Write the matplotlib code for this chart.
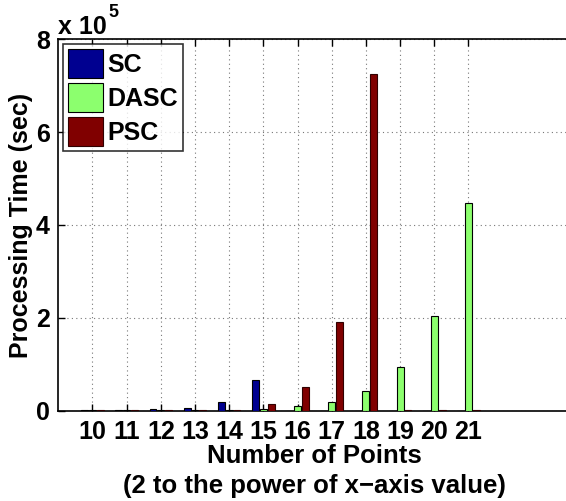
import matplotlib
matplotlib.use("Agg")
from matplotlib import pyplot as plt
import numpy as np

plt.rcParams['font.family'] = ['Liberation Sans', 'DejaVu Sans']
plt.rcParams['font.weight'] = 'bold'

points = [10, 11, 12, 13, 14, 15, 16, 17, 18, 19, 20, 21]
sc = [300, 900, 2500, 6000, 19000, 66000, 0, 0, 0, 0, 0, 0]
dasc = [150, 250, 400, 700, 1200, 2500, 9000, 19000, 42000, 93000, 203000, 447000]
psc = [300, 400, 500, 700, 2000, 14000, 51000, 191000, 726000, 500, 500, 500]

fig = plt.figure(figsize=(5.66, 5.01), dpi=100)
ax = fig.add_axes([0.103, 0.1806, 0.9058, 0.7406])

x = np.array(points)
w = 0.2
ax.bar(x - 0.23, sc, w, color='#000090', edgecolor='black', linewidth=0.8, label='SC', zorder=3)
ax.bar(x, dasc, w, color='#8CFF6E', edgecolor='black', linewidth=0.8, label='DASC', zorder=3)
ax.bar(x + 0.23, psc, w, color='#800000', edgecolor='#300000', linewidth=0.8, label='PSC', zorder=3)

ax.set_xlim(9, 24)
ax.set_ylim(0, 8e5)
ax.set_xticks(points)
ax.set_xticklabels([str(p) for p in points])
ax.set_yticks([0, 2e5, 4e5, 6e5, 8e5])
ax.set_yticklabels(['0', '2', '4', '6', '8'])
ax.tick_params(direction='in', length=5, width=1, top=True, right=False,
               labelsize=18, pad=6)
ax.tick_params(axis='x', pad=7)
ax.grid(True, linestyle=(0, (1, 3)), color='#777777', linewidth=0.8, zorder=0)
ax.spines['right'].set_visible(False)
for s in ['left', 'top', 'bottom']:
    ax.spines[s].set_linewidth(1.2)

ax.set_xlabel('Number of Points\n(2 to the power of x\u2212axis value)',
              fontsize=18.5, fontweight='bold', labelpad=0, linespacing=1.3)
ax.set_ylabel('Processing Time (sec)', fontsize=18, fontweight='bold', labelpad=2)

fig.text(0.102, 0.932, 'x 10', fontsize=18, fontweight='bold')
fig.text(0.192, 0.966, '5', fontsize=13, fontweight='bold')

leg = ax.legend(loc='upper left', fontsize=18, frameon=True, fancybox=False,
                edgecolor='black', handlelength=1.4, handleheight=1.4,
                borderpad=0.2, labelspacing=0.2, handletextpad=0.15,
                borderaxespad=0.2)
leg.get_frame().set_linewidth(1.2)

fig.savefig('out.png', dpi=100)
